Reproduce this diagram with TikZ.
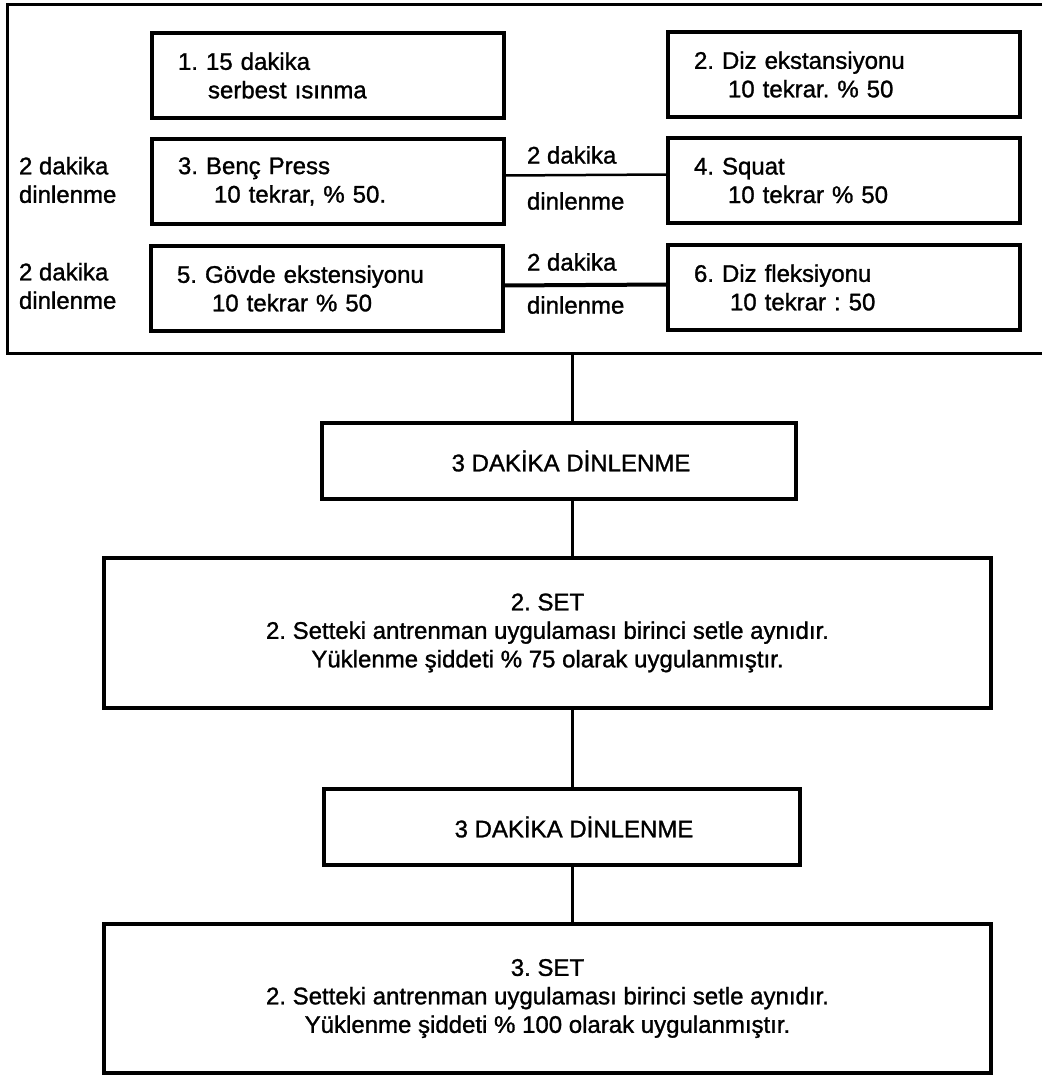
\documentclass[tikz,border=0pt]{standalone}
\usepackage{fontspec}
\setmainfont{Liberation Sans}[FakeBold=1.2]
\frenchspacing
\begin{document}
\begin{tikzpicture}[x=1pt,y=-1pt,
  every node/.style={font=\fontsize{24}{28.5}\selectfont, outer sep=0pt},
  exbox/.style={draw, line width=3.5pt, anchor=north west, minimum width=352pt,
    minimum height=85pt, text width=300pt, inner xsep=26pt, align=left},
  restbox/.style={draw, line width=3.5pt, anchor=north west, minimum height=76pt, align=center},
  setbox/.style={draw, line width=3.5pt, anchor=north west, minimum width=887pt,
    minimum height=150pt, align=center},
  lbl/.style={anchor=west, inner sep=0pt, align=left},
  conn/.style={line width=3pt}
]
\useasboundingbox (0,0) rectangle (1042,1075);
% outer frame (open on the right)
\draw[line width=3pt] (1042,5) -- (7,5) -- (7,353) -- (1042,353);
\coordinate (fb) at (572,353);

\node[exbox] (b1) at (152,33) {1. 15 dakika\\\hspace*{30pt}serbest ısınma};
\node[exbox] (b2) at (668,32) {2. Diz ekstansiyonu\\\hspace*{34pt}10 tekrar. \% 50};
\node[exbox] (b3) at (152,139) {3. Benç Press\\\hspace*{36pt}10 tekrar, \% 50.};
\node[exbox] (b4) at (668,138) {4. Squat\\\hspace*{34pt}10 tekrar \% 50};
\node[exbox] (b5) at (151,246) {5. Gövde ekstensiyonu\\\hspace*{35pt}10 tekrar \% 50};
\node[exbox] (b6) at (668,245) {6. Diz fleksiyonu\\\hspace*{36pt}10 tekrar : 50};

\node[lbl] (l1) at (19,180) {2 dakika\\dinlenme};
\node[lbl] (l2) at (19,286) {2 dakika\\dinlenme};
\node[lbl] (m1a) at (527,155) {2 dakika};
\node[lbl] (m1b) at (527,201) {dinlenme};
\node[lbl] (m2a) at (527,262) {2 dakika};
\node[lbl] (m2b) at (527,305) {dinlenme};

\draw[line width=2.5pt] ([yshift=6pt]b3.east) -- ([yshift=6pt]b4.west);
\draw[line width=4pt] ([yshift=3pt]b5.east) -- ([yshift=3pt]b6.west);

\node[restbox, minimum width=474pt] (r1) at (322,423) {\hspace*{24pt}3 DAKİKA DİNLENME};
\node[setbox] (s2) at (104,558) {2. SET\\2. Setteki antrenman uygulaması birinci setle aynıdır.\\Yüklenme şiddeti \% 75 olarak uygulanmıştır.};
\node[restbox, minimum width=476pt] (r2) at (324,789) {\hspace*{24pt}3 DAKİKA DİNLENME};
\node[setbox, minimum height=149pt] (s3) at (104,924) {3. SET\\2. Setteki antrenman uygulaması birinci setle aynıdır.\\Yüklenme şiddeti \% 100 olarak uygulanmıştır.};

\draw[conn] (fb) -- (fb |- r1.north);
\draw[conn] (fb |- r1.south) -- (fb |- s2.north);
\draw[conn] (fb |- s2.south) -- (fb |- r2.north);
\draw[conn] (fb |- r2.south) -- (fb |- s3.north);
\end{tikzpicture}
\end{document}
